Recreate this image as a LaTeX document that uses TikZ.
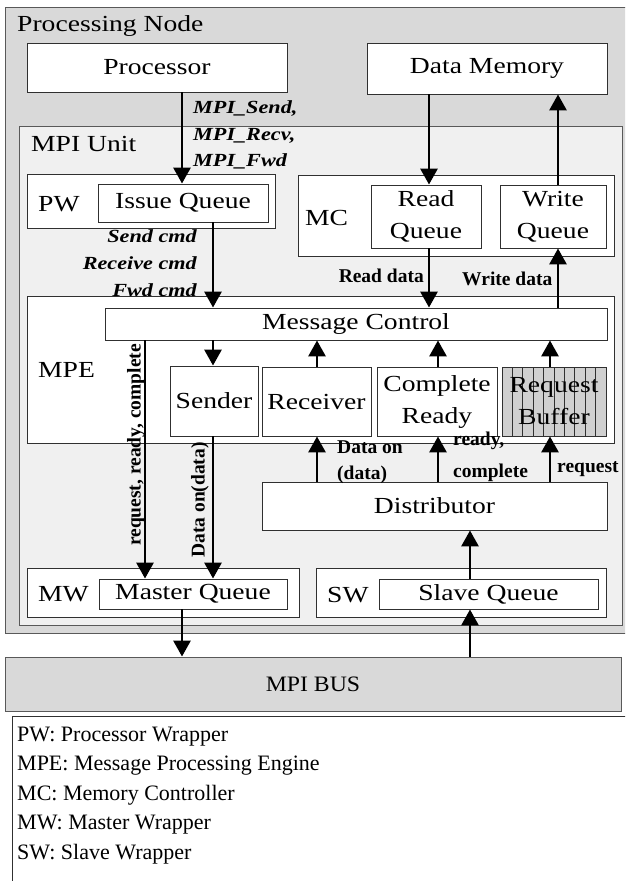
\documentclass[tikz,border=0pt]{standalone}
\usepackage{fontspec}
\setmainfont{Liberation Serif}
\newfontfamily\boxf{Liberation Serif}[FakeStretch=1.2]
\newfontfamily\busf{Liberation Serif}[FakeStretch=1.08]
\usetikzlibrary{arrows.meta}
\definecolor{pngray}{HTML}{D9D9D9}
\definecolor{mpigray}{HTML}{F0F0F0}
\definecolor{edge}{HTML}{303030}
\definecolor{hatchgray}{HTML}{D0D0D0}
\begin{document}
\begin{tikzpicture}[x=1pt,y=-1pt,
  box/.style={draw=edge, line width=0.9pt, fill=white, inner sep=0pt, font=\boxf\fontsize{23}{32}\selectfont, align=center},
  arr/.style={line width=2.9pt, -{Triangle[width=17pt,length=16pt]}},
  bi/.style={font=\boxf\fontsize{18.5}{22}\selectfont\bfseries\itshape, inner sep=0pt},
  bl/.style={font=\fontsize{19.5}{22}\selectfont\bfseries, inner sep=0pt},
  tx/.style={font=\boxf\fontsize{23}{30}\selectfont, inner sep=0pt},
  lg/.style={font=\fontsize{22}{30}\selectfont, inner sep=0pt, anchor=base west},
]
\useasboundingbox (0,0) rectangle (625,881);
\clip (0,0) rectangle (625,881);
\fill[white] (0,0) rectangle (625,881);

% processing node
\node[box, fill=pngray, draw=edge!80, minimum width=635pt, minimum height=626pt] (pn) at (322.5,320) {};
\node[tx, anchor=base west] (pnl) at (17,31) {Processing Node};
\node[box, minimum width=260pt, minimum height=49pt] (proc) at (157,67.5) {Processor};
\node[box, minimum width=240pt, minimum height=51pt] (dmem) at (487,68.5) {Data Memory};

% MPI unit
\node[box, fill=mpigray, draw=edge!80, minimum width=603pt, minimum height=499pt] (mpiu) at (320.5,375.5) {};
\node[tx, anchor=base west] (mpil) at (31,151) {MPI Unit};

\node[box, minimum width=248pt, minimum height=54pt] (pw) at (151,201) {};
\node[tx, anchor=base west] (pwl) at (38,211) {PW};
\node[box, minimum width=170pt, minimum height=38pt] (iq) at (183,203) {Issue Queue};

\node[box, minimum width=316pt, minimum height=81pt] (mc) at (456,215.5) {};
\node[tx, anchor=base west] (mcl) at (305,225) {MC};
\node[box, minimum width=110pt, minimum height=63pt] (rq) at (426,216.5) {Read\\Queue};
\node[box, minimum width=106pt, minimum height=63pt] (wq) at (553,216.5) {Write\\Queue};

\node[box, minimum width=587pt, minimum height=147pt] (mpe) at (320.5,369.5) {};
\node[tx, anchor=base west] (mpel) at (38,377) {MPE};
\node[box, minimum width=502pt, minimum height=32pt] (msgc) at (356,324) {Message Control};
\node[box, minimum width=88pt, minimum height=70pt] (snd) at (214,401) {Sender};
\node[box, minimum width=109pt, minimum height=69pt] (rcv) at (316.5,401.5) {Receiver};
\node[box, minimum width=120pt, minimum height=69pt] (cr) at (437,401.5) {Complete\\Ready};
\node[box, fill=hatchgray, minimum width=104pt, minimum height=69pt,
  path picture={\foreach \k in {1,...,9}{\draw[edge, line width=0.8pt] ([xshift=\k*10.4pt]path picture bounding box.north west) -- ([xshift=\k*10.4pt]path picture bounding box.south west);}}] (rb) at (554,401.5) {Request\\Buffer};

\node[box, minimum width=345pt, minimum height=48pt] (dist) at (434.5,506) {Distributor};

\node[box, minimum width=272pt, minimum height=49pt] (mw) at (163,592.5) {};
\node[tx, anchor=base west] (mwl) at (38,601) {MW};
\node[box, minimum width=188pt, minimum height=30pt] (mq) at (193,594) {Master Queue};
\node[box, minimum width=290pt, minimum height=49pt] (sw) at (461,592.5) {};
\node[tx, anchor=base west] (swl) at (327,602) {SW};
\node[box, minimum width=219pt, minimum height=30pt] (sq) at (488.5,594) {Slave Queue};

% bus and legend
\node[box, fill=pngray, draw=edge!80, minimum width=616pt, minimum height=54pt, font=\busf\fontsize{22}{24}\selectfont] (bus) at (313,684) {MPI BUS};
\node[box, anchor=north west, minimum width=640pt, minimum height=200pt] (leg) at (12,716) {};
\node[lg] (l1) at (17,741) {PW: Processor Wrapper};
\node[lg] (l2) at (17,770.5) {MPE: Message Processing Engine};
\node[lg] (l3) at (17,800) {MC: Memory Controller};
\node[lg] (l4) at (17,829.5) {MW: Master Wrapper};
\node[lg] (l5) at (17,859) {SW: Slave Wrapper};

% columns
\coordinate (xa) at (182,0);
\coordinate (xb) at (213,0);
\coordinate (xc) at (429,0);
\coordinate (xd) at (558,0);
\coordinate (xe) at (317,0);
\coordinate (xf) at (438,0);
\coordinate (xg) at (550,0);
\coordinate (xh) at (145,0);
\coordinate (xi) at (470,0);

% arrows
\draw[arr] (proc.south -| xa) -- (iq.north -| xa);
\draw[arr] (iq.south -| xb) -- (msgc.north -| xb);
\draw[arr] (dmem.south -| xc) -- (rq.north -| xc);
\draw[arr] (wq.north -| xd) -- (dmem.south -| xd);
\draw[arr] (rq.south -| xc) -- (msgc.north -| xc);
\draw[arr] (msgc.north -| xd) -- (wq.south -| xd);
\draw[arr] (msgc.south -| xb) -- (snd.north -| xb);
\draw[arr] (rcv.north -| xe) -- (msgc.south -| xe);
\draw[arr] (cr.north -| xf) -- (msgc.south -| xf);
\draw[arr] (rb.north -| xg) -- (msgc.south -| xg);
\draw[arr] (dist.north -| xe) -- (rcv.south -| xe);
\draw[arr] (dist.north -| xf) -- (cr.south -| xf);
\draw[arr] (dist.north -| xg) -- (rb.south -| xg);
\draw[arr] (msgc.south -| xh) -- (mq.north -| xh);
\draw[arr] (snd.south -| xb) -- (mq.north -| xb);
\draw[arr] (sq.north -| xi) -- (dist.south -| xi);
\draw[arr] (mq.south -| xa) -- (bus.north -| xa);
\draw[arr] (bus.north -| xi) -- (sq.south -| xi);

% labels
\node[bi, anchor=base west] (t1) at (193,113) {MPI\_Send,};
\node[bi, anchor=base west] (t2) at (193,140) {MPI\_Recv,};
\node[bi, anchor=base west] (t3) at (193,166) {MPI\_Fwd};
\node[bi, anchor=base east] (t4) at (197,242) {Send cmd};
\node[bi, anchor=base east] (t5) at (197,269) {Receive cmd};
\node[bi, anchor=base east] (t6) at (197,296) {Fwd cmd};
\node[bl, anchor=base east] (t7) at (424,282) {Read data};
\node[bl, anchor=base west] (t8) at (462,285) {Write data};
\node[bl, anchor=base west] (t9) at (337,453) {Data on};
\node[bl, anchor=base west] (t10) at (337,479) {(data)};
\node[bl, anchor=base west] (t11) at (453,445) {ready,};
\node[bl, anchor=base west] (t12) at (453,477) {complete};
\node[bl, anchor=base west] (t13) at (557,472) {request};
\node[bl, rotate=90] (t14) at (136,445) {request, ready, complete};
\node[bl, rotate=90] (t15) at (200,500) {Data on(data)};
\end{tikzpicture}
\end{document}
